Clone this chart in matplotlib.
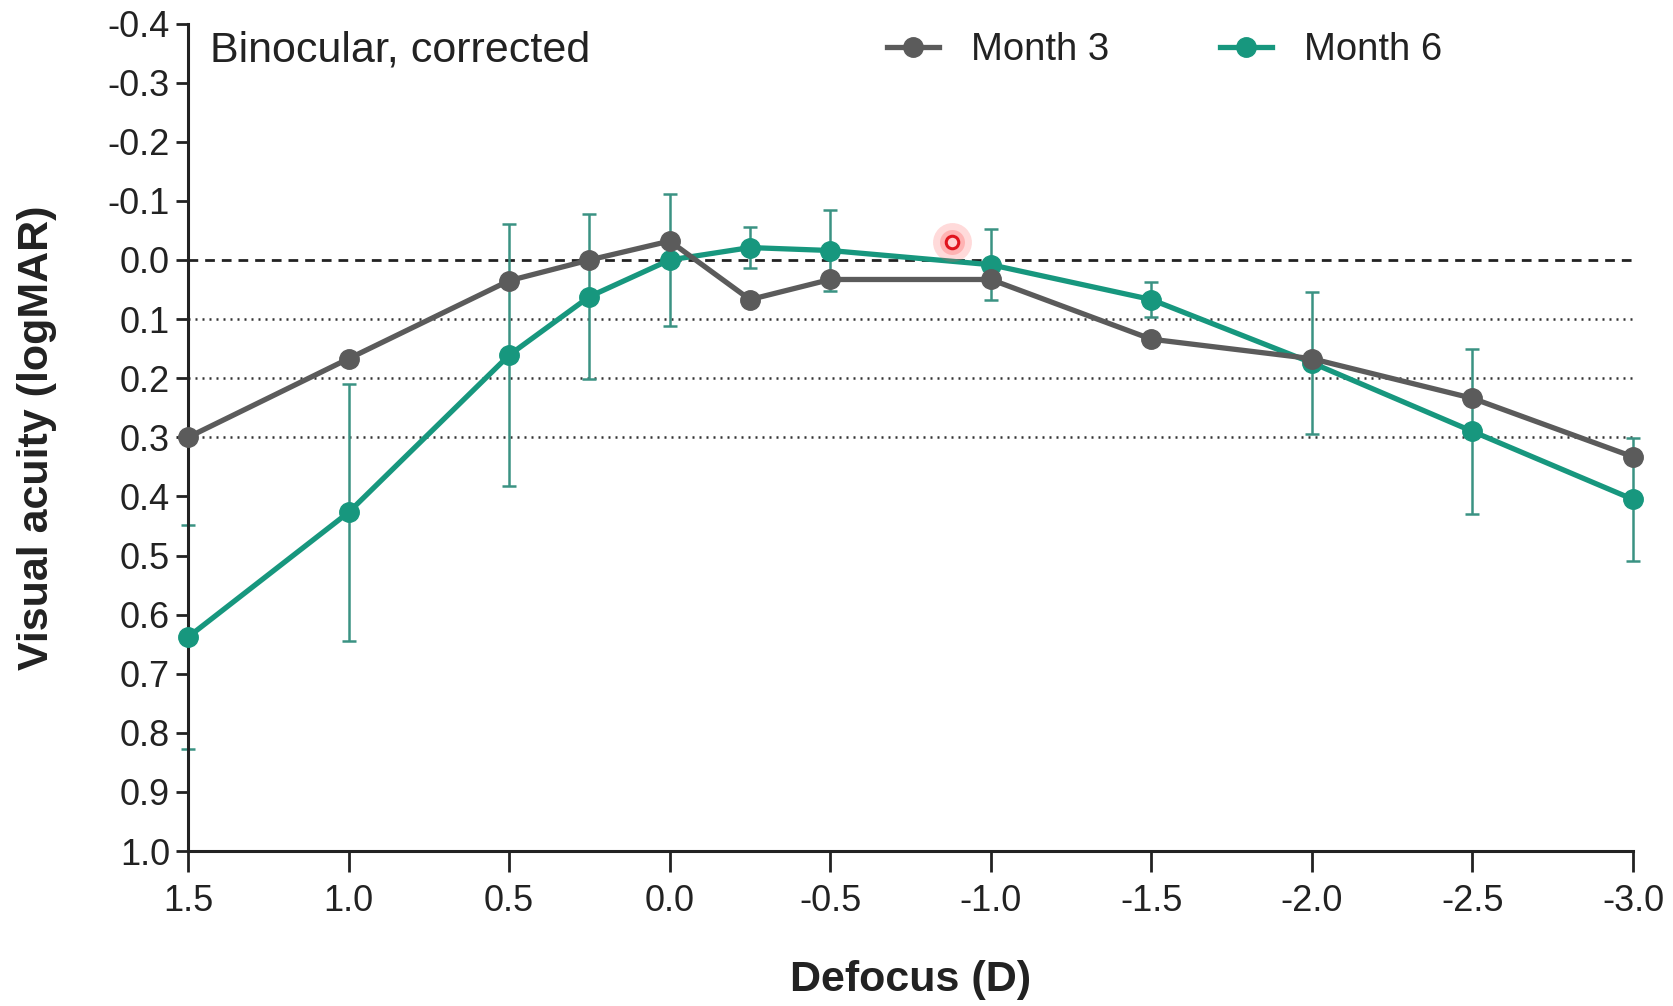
import matplotlib
matplotlib.use("Agg")
import matplotlib.pyplot as plt

plt.rcParams['font.family'] = ['Liberation Sans', 'DejaVu Sans']

# ---- data ----
defocus = [1.5, 1.0, 0.5, 0.25, 0.0, -0.25, -0.5, -1.0, -1.5, -2.0, -2.5, -3.0]
month3 = [0.30, 0.167, 0.035, 0.0, -0.032, 0.067, 0.033, 0.033, 0.134, 0.167, 0.234, 0.333]
month6 = [0.638, 0.427, 0.161, 0.062, 0.0, -0.021, -0.016, 0.008, 0.067, 0.174, 0.290, 0.405]
month6_err = [0.19, 0.218, 0.222, 0.14, 0.112, 0.035, 0.068, 0.06, 0.03, 0.12, 0.14, 0.104]
cursor_x = [-0.88]
cursor_y = [-0.03]

xticks = [1.5, 1.0, 0.5, 0.0, -0.5, -1.0, -1.5, -2.0, -2.5, -3.0]
xticklabels = ["1.5", "1.0", "0.5", "0.0", "-0.5", "-1.0", "-1.5", "-2.0", "-2.5", "-3.0"]
yticks = [-0.4, -0.3, -0.2, -0.1, 0.0, 0.1, 0.2, 0.3, 0.4, 0.5, 0.6, 0.7, 0.8, 0.9, 1.0]
yticklabels = ["-0.4", "-0.3", "-0.2", "-0.1", "0.0", "0.1", "0.2", "0.3", "0.4",
               "0.5", "0.6", "0.7", "0.8", "0.9", "1.0"]
dotted_refs = [0.1, 0.2, 0.3]
dashed_ref = 0.0

GRAY = '#5b5b5b'
TEAL = '#17977e'
TEAL_ERR = '#3a9283'

fig = plt.figure(figsize=(16.73, 10.06), dpi=100)
ax = fig.add_axes([0.1124, 0.154, 0.8637, 0.8226])

# reference lines
ax.plot([xticks[0], xticks[-1]], [dashed_ref, dashed_ref], color='#222222', lw=2.0,
        ls=(0, (3.5, 2.5)), zorder=1)
for r in dotted_refs:
    ax.plot([xticks[0], xticks[-1]], [r, r], color='#333333', lw=1.8,
            ls=(0, (0.8, 2.0)), zorder=1)

# Month 6
ax.errorbar(defocus, month6, yerr=month6_err, fmt='none', ecolor=TEAL_ERR,
            elinewidth=1.8, capsize=5, capthick=1.8, zorder=2, clip_on=False)
ax.plot(defocus, month6, '-o', color=TEAL, lw=3.8, ms=14, label='Month 6',
        zorder=3, clip_on=False)
# Month 3
ax.plot(defocus, month3, '-o', color=GRAY, lw=3.8, ms=14, label='Month 3',
        zorder=4, clip_on=False)

# red cursor-like mark
ax.plot(cursor_x, cursor_y, 'o', ms=28, color='#ff5a5a', alpha=0.22, mec='none', zorder=5)
ax.plot(cursor_x, cursor_y, 'o', ms=18, color='#ff4040', alpha=0.25, mec='none', zorder=5)
ax.plot(cursor_x, cursor_y, 'o', ms=9, mfc='#ffd0d0', mec='#e0141e', mew=2.2, zorder=6)

ax.set_xlim(1.5, -3.0)
ax.set_ylim(1.0, -0.4)
ax.set_xticks(xticks)
ax.set_xticklabels(xticklabels)
ax.set_yticks(yticks)
ax.set_yticklabels(yticklabels)

for s in ['top', 'right']:
    ax.spines[s].set_visible(False)
for s in ['left', 'bottom']:
    ax.spines[s].set_linewidth(2.2)
    ax.spines[s].set_color('#222222')

ax.tick_params(axis='x', length=15, width=2, pad=9, labelsize=26, colors='#222222')
ax.tick_params(axis='y', length=9, width=2, pad=4, labelsize=26, colors='#222222')

ax.set_xlabel('Defocus (D)', fontsize=31, fontweight='bold', color='#222222')
ax.set_ylabel('Visual acuity (logMAR)', fontsize=31, fontweight='bold', color='#222222')
ax.xaxis.label.set_va('center')
ax.yaxis.label.set_va('center')
ax.xaxis.set_label_coords(0.5, -0.156)
ax.yaxis.set_label_coords(-0.1045, 0.5)

ax.text(0.0152, 0.968, 'Binocular, corrected', transform=ax.transAxes,
        fontsize=31, va='center', ha='left', color='#222222')

handles, labels = ax.get_legend_handles_labels()
order = [labels.index('Month 3'), labels.index('Month 6')]
leg = ax.legend([handles[i] for i in order], [labels[i] for i in order],
                loc='center', bbox_to_anchor=(0.676, 0.968), ncol=2, frameon=False,
                fontsize=27.5, handlelength=1.35, handletextpad=0.85, columnspacing=2.9,
                borderaxespad=0)
for t in leg.get_texts():
    t.set_color('#222222')

fig.savefig('out.png', dpi=100)
